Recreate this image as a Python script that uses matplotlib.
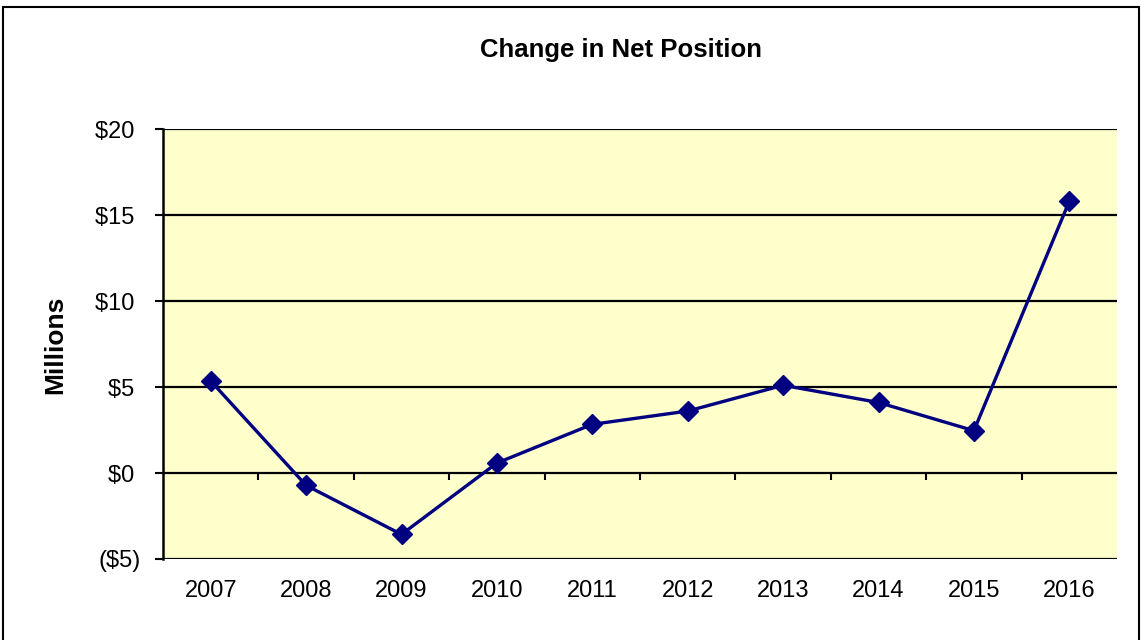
import matplotlib
matplotlib.use("Agg")
import matplotlib.pyplot as plt
from matplotlib.patches import Rectangle
from matplotlib.ticker import FixedLocator, FuncFormatter

years = ["2007", "2008", "2009", "2010", "2011", "2012", "2013", "2014", "2015", "2016"]
net_change = [5.35, -0.72, -3.57, 0.58, 2.83, 3.60, 5.10, 4.10, 2.46, 15.8]
y_ticks = [-5, 0, 5, 10, 15, 20]
y_labels = ["($5)", "$0 ", "$5 ", "$10 ", "$15 ", "$20 "]

plt.rcParams["font.family"] = ["Liberation Sans", "DejaVu Sans"]

fig = plt.figure(figsize=(11.41, 6.40), dpi=100)
fig.patch.set_facecolor("white")
ax = fig.add_axes([163 / 1141, 1 - 559 / 640, (1117 - 163) / 1141, (559 - 129) / 640])
ax.set_facecolor("#FFFFCC")

x = list(range(len(years)))
ax.set_xlim(-0.5, len(years) - 0.5)
ax.set_ylim(y_ticks[0], y_ticks[-1])

for yv in y_ticks:
    ax.axhline(yv, color="black", lw=1.6, zorder=1)

ax.plot(x, net_change, color="#000080", lw=2.4, marker="D", markersize=10,
        markerfacecolor="#000080", markeredgecolor="#000080", zorder=3, clip_on=False)

for s in ["top", "right", "bottom"]:
    ax.spines[s].set_visible(False)
ax.spines["left"].set_linewidth(1.8)
ax.spines["left"].set_color("black")

ax.yaxis.set_major_locator(FixedLocator(y_ticks))
ax.yaxis.set_major_formatter(FuncFormatter(lambda v, p: y_labels[y_ticks.index(int(round(v)))]))
ax.tick_params(axis="y", direction="out", length=6, width=1.5, pad=10, labelsize=17)

ax.set_xticks(x)
ax.set_xticklabels(years)
ax.tick_params(axis="x", length=0, pad=15, labelsize=17)

# category boundary ticks on the zero line
zero_frac = (0 - y_ticks[0]) / (y_ticks[-1] - y_ticks[0])
sec = ax.secondary_xaxis(zero_frac)
sec.set_xticks([i + 0.5 for i in x[:-1]])
sec.tick_params(axis="x", direction="out", length=5, width=1.5, labelbottom=False, labeltop=False,
                bottom=True, top=False)
sec.spines["bottom"].set_visible(False)
sec.spines["top"].set_visible(False)
sec.xaxis.set_ticks_position("bottom")
sec.set_xticklabels([])

fig.text(621 / 1141, 1 - 50 / 640, "Change in Net Position", ha="center", va="center",
         fontsize=18.5, fontweight="bold")
fig.text(55 / 1141, 1 - 345 / 640, "Millions", ha="center", va="center", rotation=90,
         fontsize=19, fontweight="bold")

fig.add_artist(Rectangle((3 / 1141, -0.05), (1139 - 3) / 1141, 1.05 - 7 / 640,
                         transform=fig.transFigure, fill=False, edgecolor="black", lw=1.5))

fig.savefig("out.png", dpi=100)
